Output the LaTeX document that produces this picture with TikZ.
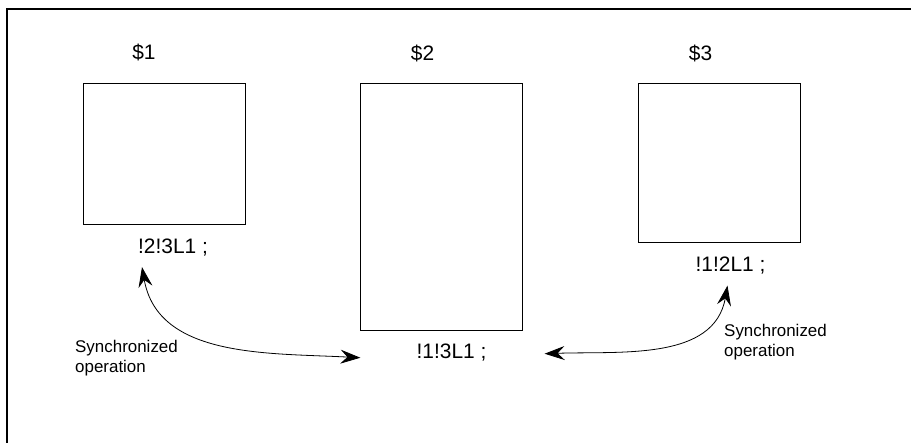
\documentclass[tikz,border=0pt]{standalone}
\usepackage{fontspec}
\setmainfont{Liberation Sans}
\usetikzlibrary{arrows.meta,positioning}

\begin{document}
\begin{tikzpicture}[
    x=1bp, y=1bp,
    unit/.style={
        rectangle, draw, line width=0.8bp,
        minimum width=162bp, inner sep=0pt,
    },
    tag/.style={font=\fontsize{21}{24}\selectfont, inner sep=0pt},
    note/.style={font=\fontsize{17}{20}\selectfont, align=left, inner sep=0pt, anchor=west},
    sync/.style={{Stealth[length=20bp,width=14bp,inset=7bp]}-{Stealth[length=20bp,width=14bp,inset=7bp]}, line width=0.8bp},
    frame/.style={line width=2bp},
]

\useasboundingbox (0,0) rectangle (911,443);

% Frame
\draw[frame] (7,0) -- (7,434) -- (911,434);

% Units
\node[unit, minimum height=141bp] (u1) at (164,289.5) {};
\node[unit, minimum height=247bp] (u2) at (441.5,236) {};
\node[unit, minimum height=159bp] (u3) at (719.5,280) {};

\node[tag, above=21bp of u1.north, xshift=-20bp] (t1) {\$1};
\node[tag, above=21bp of u2.north, xshift=-19bp] (t2) {\$2};
\node[tag, above=21bp of u3.north, xshift=-19bp] (t3) {\$3};

% Programs
\node[tag, below=14bp of u1.south, xshift=9bp] (c1) {!2!3L1 ;};
\node[tag, below=13bp of u2.south, xshift=10bp] (c2) {!1!3L1 ;};
\node[tag, below=14bp of u3.south, xshift=11bp] (c3) {!1!2L1 ;};

% Synchronized operation
\draw[sync] ([xshift=-31bp,yshift=-11bp]c1.south) to[out=-80, in=177] ([xshift=-56bp,yshift=-5bp]c2.west);
\draw[sync] ([xshift=58bp,yshift=-1bp]c2.east) to[out=2, in=-100] ([xshift=-3bp,yshift=-11bp]c3.south);

\node[note] (s1) at (75,85) {Synchronized\\operation};
\node[note] (s2) at (724,100.5) {Synchronized\\operation};

\end{tikzpicture}
\end{document}
